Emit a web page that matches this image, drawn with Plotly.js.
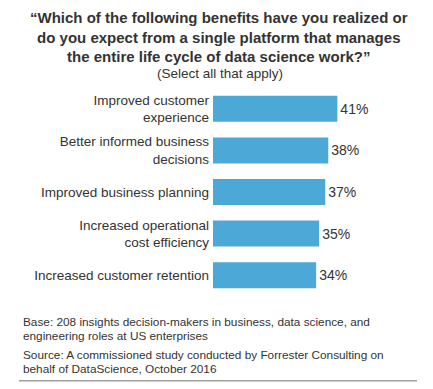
<!DOCTYPE html>
<html>
<head>
<meta charset="utf-8">
<script src="https://cdn.plot.ly/plotly-3.0.1.min.js"></script>
<style>html,body{margin:0;padding:0;background:#fff;}#chart{width:433px;height:389px;}</style>
</head>
<body>
<div id="chart"></div>
<script>
var categories = [
  "Improved customer<br>experience",
  "Better informed business<br>decisions",
  "Improved business planning",
  "Increased operational<br>cost efficiency",
  "Increased customer retention"
];
var values = [41, 38, 37, 35, 34];
var valueLabels = ["41%", "38%", "37%", "35%", "34%"];

var titleLines = [
  "“Which of the following benefits have you realized or",
  "do you expect from a single platform that manages",
  "the entire life cycle of data science work?”"
];
var subtitle = "(Select all that apply)";
var footLines = [
  "Base: 208 insights decision-makers in business, data science, and",
  "engineering roles at US enterprises",
  "Source: A commissioned study conducted by Forrester Consulting on",
  "behalf of DataScience, October 2016"
];

var W = 433, H = 389;
var mL = 213, mR = 38, mT = 88, mB = 92.5;
var plotW = W - mL - mR, plotH = H - mT - mB;
function px(x){ return (x - mL) / plotW; }
function py(y){ return (H - mB - y) / plotH; }

var textColor = "#333333";
var font = "Arial, 'Liberation Sans', sans-serif";

var trace = {
  type: "bar",
  orientation: "h",
  y: categories,
  x: values,
  text: valueLabels,
  textposition: "outside",
  cliponaxis: false,
  textfont: {family: font, size: 14, color: textColor},
  marker: {color: "#4ba8d7"},
  hoverinfo: "none"
};

var annotations = [
  {text: "<b>" + titleLines.join("<br>") + "</b>", x: px(219), y: py(37), xanchor: "center", yanchor: "middle",
   font: {family: font, size: 15, color: textColor}},
  {text: subtitle, x: px(220), y: py(73), xanchor: "center", yanchor: "middle",
   font: {family: font, size: 13.5, color: textColor}}
];
var footY = [322.5, 336.5, 355.5, 369.5];
footLines.forEach(function(t, i){
  annotations.push({text: t, x: px(21), y: py(footY[i]), xanchor: "left", yanchor: "middle", align: "left",
    font: {family: font, size: 11.8, color: textColor}});
});
annotations.forEach(function(a){ a.xref = "paper"; a.yref = "paper"; a.showarrow = false; });

var layout = {
  width: W, height: H,
  margin: {l: mL, r: mR, t: mT, b: mB, pad: 0},
  paper_bgcolor: "#ffffff",
  plot_bgcolor: "#ffffff",
  showlegend: false,
  bargap: 0.376,
  xaxis: {range: [0, 60], visible: false, fixedrange: true},
  yaxis: {autorange: "reversed", showgrid: false, zeroline: false, showline: false,
          ticks: "", ticklabelstandoff: 3,
          tickfont: {family: font, size: 13.5, color: textColor}, fixedrange: true},
  annotations: annotations,
  shapes: [
    {type: "line", xref: "paper", yref: "paper", x0: px(19), x1: px(417), y0: py(381.5), y1: py(381.5),
     line: {color: "#a0a0a0", width: 1.5}}
  ]
};

Plotly.newPlot("chart", [trace], layout, {displayModeBar: false, staticPlot: true});
</script>
</body>
</html>
